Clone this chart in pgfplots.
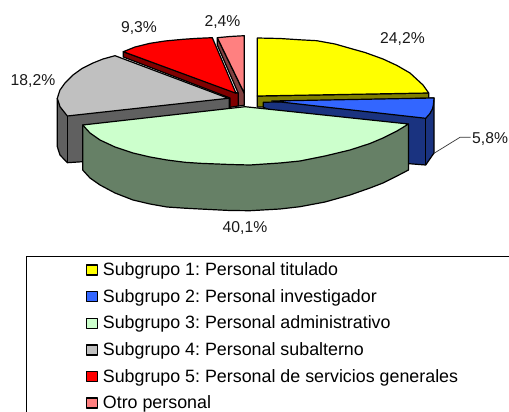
\documentclass[border=0pt]{standalone}
\usepackage{pgfplots}
\pgfplotsset{compat=1.18}
\usepackage{fontspec}
\setmainfont{Liberation Sans}
\definecolor{cy}{HTML}{FFFF00}\definecolor{cyd}{HTML}{808000}
\definecolor{cb}{HTML}{3366FF}\definecolor{cbd}{HTML}{1A3380}
\definecolor{cg}{HTML}{CCFFCC}\definecolor{cgd}{HTML}{668066}
\definecolor{ca}{HTML}{C0C0C0}\definecolor{cad}{HTML}{606060}
\definecolor{cr}{HTML}{FF0000}\definecolor{crd}{HTML}{800000}
\definecolor{cp}{HTML}{FF8080}\definecolor{cpd}{HTML}{804040}
\tikzset{
  lab/.style={font=\fontsize{15.7bp}{17bp}\selectfont, text=black!90, inner sep=0pt},
  leg/.style={font=\frenchspacing\fontsize{17.85bp}{19bp}\selectfont, text=black, inner sep=0pt, anchor=west},
}
\begin{document}
\begin{tikzpicture}
\begin{axis}[
  scale only axis, width=509bp, height=412bp,
  xmin=0, xmax=509, ymin=0, ymax=412, y dir=reverse,
  axis lines=none, clip=true,
  every axis plot/.append style={draw=black, line width=1.2bp, line join=round, mark=none},
]
% Otro personal
\addplot[fill=cpd] coordinates {(217.3,37.7)(217.3,45)(238.3,93.3)(238.3,106)(244.3,105.3)(244.3,93.3)} -- cycle;
\addplot[fill=cp] coordinates {(217.3,37.7)(230,36.5)(244.3,35.7)(244.3,93.3)} -- cycle;
% Subgrupo 5
\addplot[fill=crd] coordinates {(123.3,51.7)(123.3,57)(230,98)(230,107.3)(238.3,106)(238.3,93.3)} -- cycle;
\addplot[fill=cr] coordinates {(123.3,51.7)(135,47)(150,43.3)(165,41)(183,39.3)(198,38.3)(212.3,37.7)(236,93.3)} -- cycle;
% Subgrupo 4
\addplot[fill=cad] coordinates {(229.3,98.3)(229.3,107.3)(230,140)(82.7,161.7)(67.3,162.7)(60,155)(57.3,146.7)(57.3,98.3)} -- cycle;
\addplot[fill=ca] coordinates {(228.3,98.3)(115,55.7)(103,59)(93,63)(82,68.5)(73,75)(65,83)(60,90)(57.3,98.3)(60,106.7)(67.3,116)} -- cycle;
\addplot[draw=black] coordinates {(67.3,116)(67.3,162.7)};
% Subgrupo 1
\addplot[fill=cyd] coordinates {(257.3,96)(257.3,107)(428.7,107)(428.7,93)} -- cycle;
\addplot[fill=cy] coordinates {(257.3,38)(280,38.5)(300,39.8)(316.7,40.7)(335,44)(350,48.3)(365,52.5)(383,59)(397,65.5)(410,73)(423,85)(428.7,93)(257.3,96)} -- cycle;
% Subgrupo 2
\addplot[fill=cbd] coordinates {(263.3,102.3)(263.3,107.3)(400,163)(425.7,165)(434,153)(434,98)} -- cycle;
\addplot[fill=cb] coordinates {(271.7,101)(434,98)(433.5,104)(432.7,108.3)(430,113.5)(425.7,118.3)} -- cycle;
\addplot[draw=black] coordinates {(425.7,118.3)(425.7,165)};
% Subgrupo 3
\addplot[fill=cgd] coordinates {(82.7,125)(82.7,170)(90,178)(100,185)(115,193)(133,200)(150,204)(167,207)(185,208.2)(200,209)(230,210.5)(250,210.7)(280,209)(300,206.7)(325,202)(350,195)(370,188)(383,183)(397,176)(408.5,170)(408.5,124)} -- cycle;
\addplot[fill=cg] coordinates {(82.7,125)(245,106.7)(408.5,124)(397,131)(383,138)(370,143.5)(350,150)(325,156)(300,161)(280,163)(250,165)(230,164.5)(200,163.3)(185,162.3)(167,160)(150,157)(133,153)(115,147)(100,140)(90,133)} -- cycle;
% leader
\addplot[draw=black!80, line width=0.7bp] coordinates {(434,153.3)(460,137.3)(470.7,137.3)};
% legend frame
\addplot[draw=black, line width=0.8bp] coordinates {(509,256)(26,256)(26,412)};
% legend keys
\addplot[fill=cy] coordinates {(86.5,265)(97.5,265)(97.5,275)(86.5,275)} -- cycle;
\addplot[fill=cb] coordinates {(86.5,291.7)(97.5,291.7)(97.5,301.7)(86.5,301.7)} -- cycle;
\addplot[fill=cg] coordinates {(86.5,318.3)(97.5,318.3)(97.5,328.3)(86.5,328.3)} -- cycle;
\addplot[fill=ca] coordinates {(86.5,345)(97.5,345)(97.5,355)(86.5,355)} -- cycle;
\addplot[fill=cr] coordinates {(86.5,371.7)(97.5,371.7)(97.5,381.7)(86.5,381.7)} -- cycle;
\addplot[fill=cp] coordinates {(86.5,398)(97.5,398)(97.5,408)(86.5,408)} -- cycle;
\node[lab] at (axis cs:402.5,38.7) {24,2\%};
\node[lab,anchor=west] at (axis cs:472,138.7) {5,8\%};
\node[lab] at (axis cs:245,227.7) {40,1\%};
\node[lab] at (axis cs:33,80.7) {18,2\%};
\node[lab] at (axis cs:139,27.7) {9,3\%};
\node[lab] at (axis cs:222.5,21.7) {2,4\%};
\node[leg] at (axis cs:102.7,271) {Subgrupo 1: Personal titulado};
\node[leg] at (axis cs:102.7,297.7) {Subgrupo 2: Personal investigador};
\node[leg] at (axis cs:102.7,324.3) {Subgrupo 3: Personal administrativo};
\node[leg] at (axis cs:102.7,351) {Subgrupo 4: Personal subalterno};
\node[leg] at (axis cs:102.7,377.7) {Subgrupo 5: Personal de servicios generales};
\node[leg] at (axis cs:102.7,404) {Otro personal};
\end{axis}
\useasboundingbox (0,0) rectangle (509bp,412bp);
\end{tikzpicture}
\end{document}
